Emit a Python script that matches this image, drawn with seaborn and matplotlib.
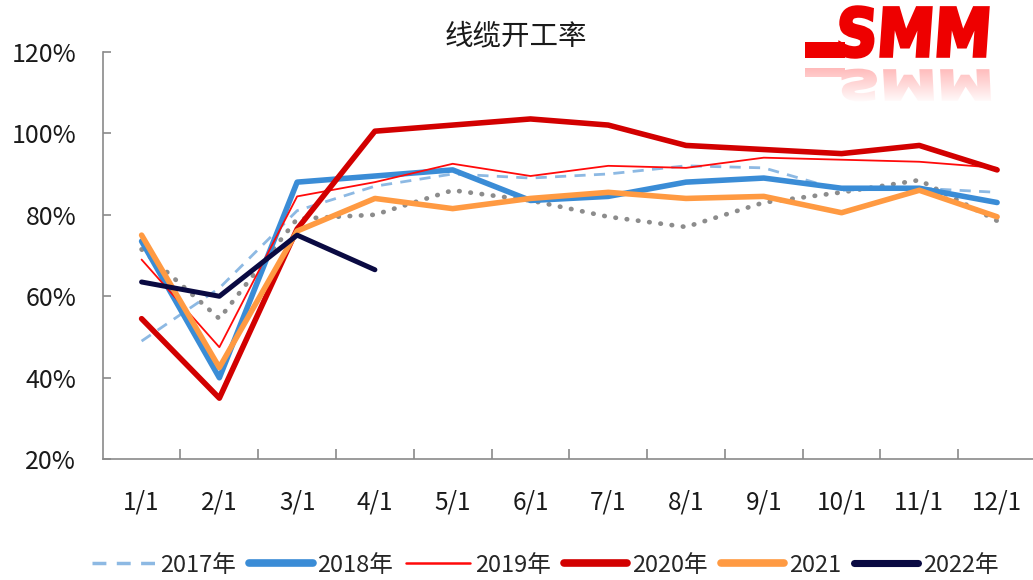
import matplotlib
matplotlib.use("Agg")
import matplotlib.pyplot as plt
import numpy as np
import pandas as pd
import seaborn as sns
from matplotlib.lines import Line2D
from matplotlib.patches import PathPatch, Rectangle
from matplotlib.textpath import TextPath
from matplotlib.font_manager import FontProperties
from matplotlib.transforms import Affine2D

# values (%)
months = ["1/1", "2/1", "3/1", "4/1", "5/1", "6/1", "7/1", "8/1", "9/1", "10/1", "11/1", "12/1"]
y2017 = [49, 62, 81, 87, 90, 89, 90, 92, 91.5, 86, 86.5, 85.5]
y2018 = [73.5, 40, 88, 89.5, 91, 83.5, 84.5, 88, 89, 86.5, 86.5, 83]
y2019 = [69, 47.5, 84.5, 88, 92.5, 89.5, 92, 91.5, 94, 93.5, 93, 91.5]
y2020 = [54.5, 35, 76.5, 100.5, 102, 103.5, 102, 97, 96, 95, 97, 91]
y2021 = [75, 42.5, 76, 84, 81.5, 84, 85.5, 84, 84.5, 80.5, 86, 79.5]
y2022 = [63.5, 60, 75, 66.5]
y_avg = [71.5, 54.5, 79, 80, 86, 83.5, 79.5, 77, 83, 85.5, 88.5, 78.5]  # dotted, not in legend

series = [
    # label, values, color, width, style
    (None, y_avg, "#8c8c8c", 3.4, (0, (0.1, 2.3))),
    ("2017年", y2017, "#8db9e3", 2.0, (0, (4, 3))),
    ("2018年", y2018, "#3a8cd6", 4.0, "-"),
    ("2019年", y2019, "#ff0a0a", 1.3, "-"),
    ("2020年", y2020, "#d20000", 4.0, "-"),
    ("2021", y2021, "#ff9a42", 4.0, "-"),
    ("2022年", y2022, "#0a0a42", 3.6, "-"),
]

sns.set_theme(style="white")
plt.rcParams["font.family"] = ["Noto Sans CJK SC", "DejaVu Sans"]

fig = plt.figure(figsize=(10.33, 5.8), dpi=100)
W, H = 1033, 580
ax = fig.add_axes([102.7 / W, (H - 459.3) / H, (1036 - 102.7) / W, (459.3 - 51.7) / H])

handles = []
for label, vals, color, lw, ls in series:
    df = pd.DataFrame({"x": np.arange(len(vals)), "y": vals})
    sns.lineplot(data=df, x="x", y="y", color=color, linewidth=lw, linestyle=ls, ax=ax,
                 dash_capstyle="round" if label is None else "butt")
    if label:
        handles.append(Line2D([0], [0], color=color, linewidth=lw + (1.5 if lw > 3 else 0.5), linestyle=ls,
                              label=label, solid_capstyle="round"))

ax.set_xlim(-0.5, 11.5)
ax.set_ylim(20, 120)
ax.set_xticks(range(len(months)))
ax.set_xticklabels(months)
ax.set_xticks(np.arange(0.5, 11.5, 1), minor=True)
ax.set_yticks(range(20, 121, 20))
ax.set_yticklabels([f"{v}%" for v in range(20, 121, 20)])
ax.set_xlabel("")
ax.set_ylabel("")

for s in ["top", "right"]:
    ax.spines[s].set_visible(False)
for s in ["left", "bottom"]:
    ax.spines[s].set_color("#8a8a8a")
    ax.spines[s].set_linewidth(1.2)

ax.tick_params(axis="x", which="major", length=0, pad=22, labelsize=17.5, colors="#1a1a1a")
ax.tick_params(axis="x", which="minor", direction="in", length=7, width=1.2, color="#8a8a8a", bottom=True)
ax.tick_params(axis="y", direction="in", length=6, width=1.2, color="#8a8a8a", left=True,
               pad=19, labelsize=18, labelcolor="#1a1a1a")

fig.text(516 / W, 1 - 36 / H, "线缆开工率", ha="center", va="center", fontsize=20.5, color="#1a1a1a")

fig.legend(handles=handles, loc="center", bbox_to_anchor=(545 / W, 1 - 565 / H), ncol=6,
           frameon=False, fontsize=17, handlelength=2.7, handletextpad=0.2, columnspacing=0.55)

# SMM logo with faded reflection
lax = fig.add_axes([800 / W, (H - 110) / H, 200 / W, 110 / H])
lax.axis("off")
tp = TextPath((0, 0), "SMM", size=50, prop=FontProperties(family="DejaVu Sans", weight="bold"))
x0, y0 = tp.vertices.min(axis=0)
x1, y1 = tp.vertices.max(axis=0)
sx, sy = 150 / (x1 - x0), 50 / (y1 - y0)
main_tf = Affine2D().translate(-x0, -y1).scale(sx, -sy).skew_deg(-4, 0).translate(38, 7)
lax.add_patch(PathPatch(main_tf.transform_path(tp), facecolor="#ee0000", edgecolor="#ee0000", lw=2.5))
lax.add_patch(Rectangle((5, 42), 40, 16, color="#ee0000", lw=0))
refl_tf = Affine2D().translate(-x0, -y0).scale(sx, 30 / (y1 - y0)).skew_deg(3, 0).translate(38, 70)
lax.add_patch(PathPatch(refl_tf.transform_path(tp), facecolor="#ff8080", edgecolor="#ff8080", lw=2))
lax.add_patch(Rectangle((5, 68), 40, 9, color="#ff8080", lw=0))
grad = np.ones((50, 2, 4))
grad[..., 3] = np.linspace(0.4, 1.0, 50)[:, None]
lax.imshow(grad, extent=[0, 200, 104, 64], aspect="auto", zorder=5)
lax.set_xlim(0, 200)
lax.set_ylim(110, 0)

fig.savefig("out.png", dpi=100)
